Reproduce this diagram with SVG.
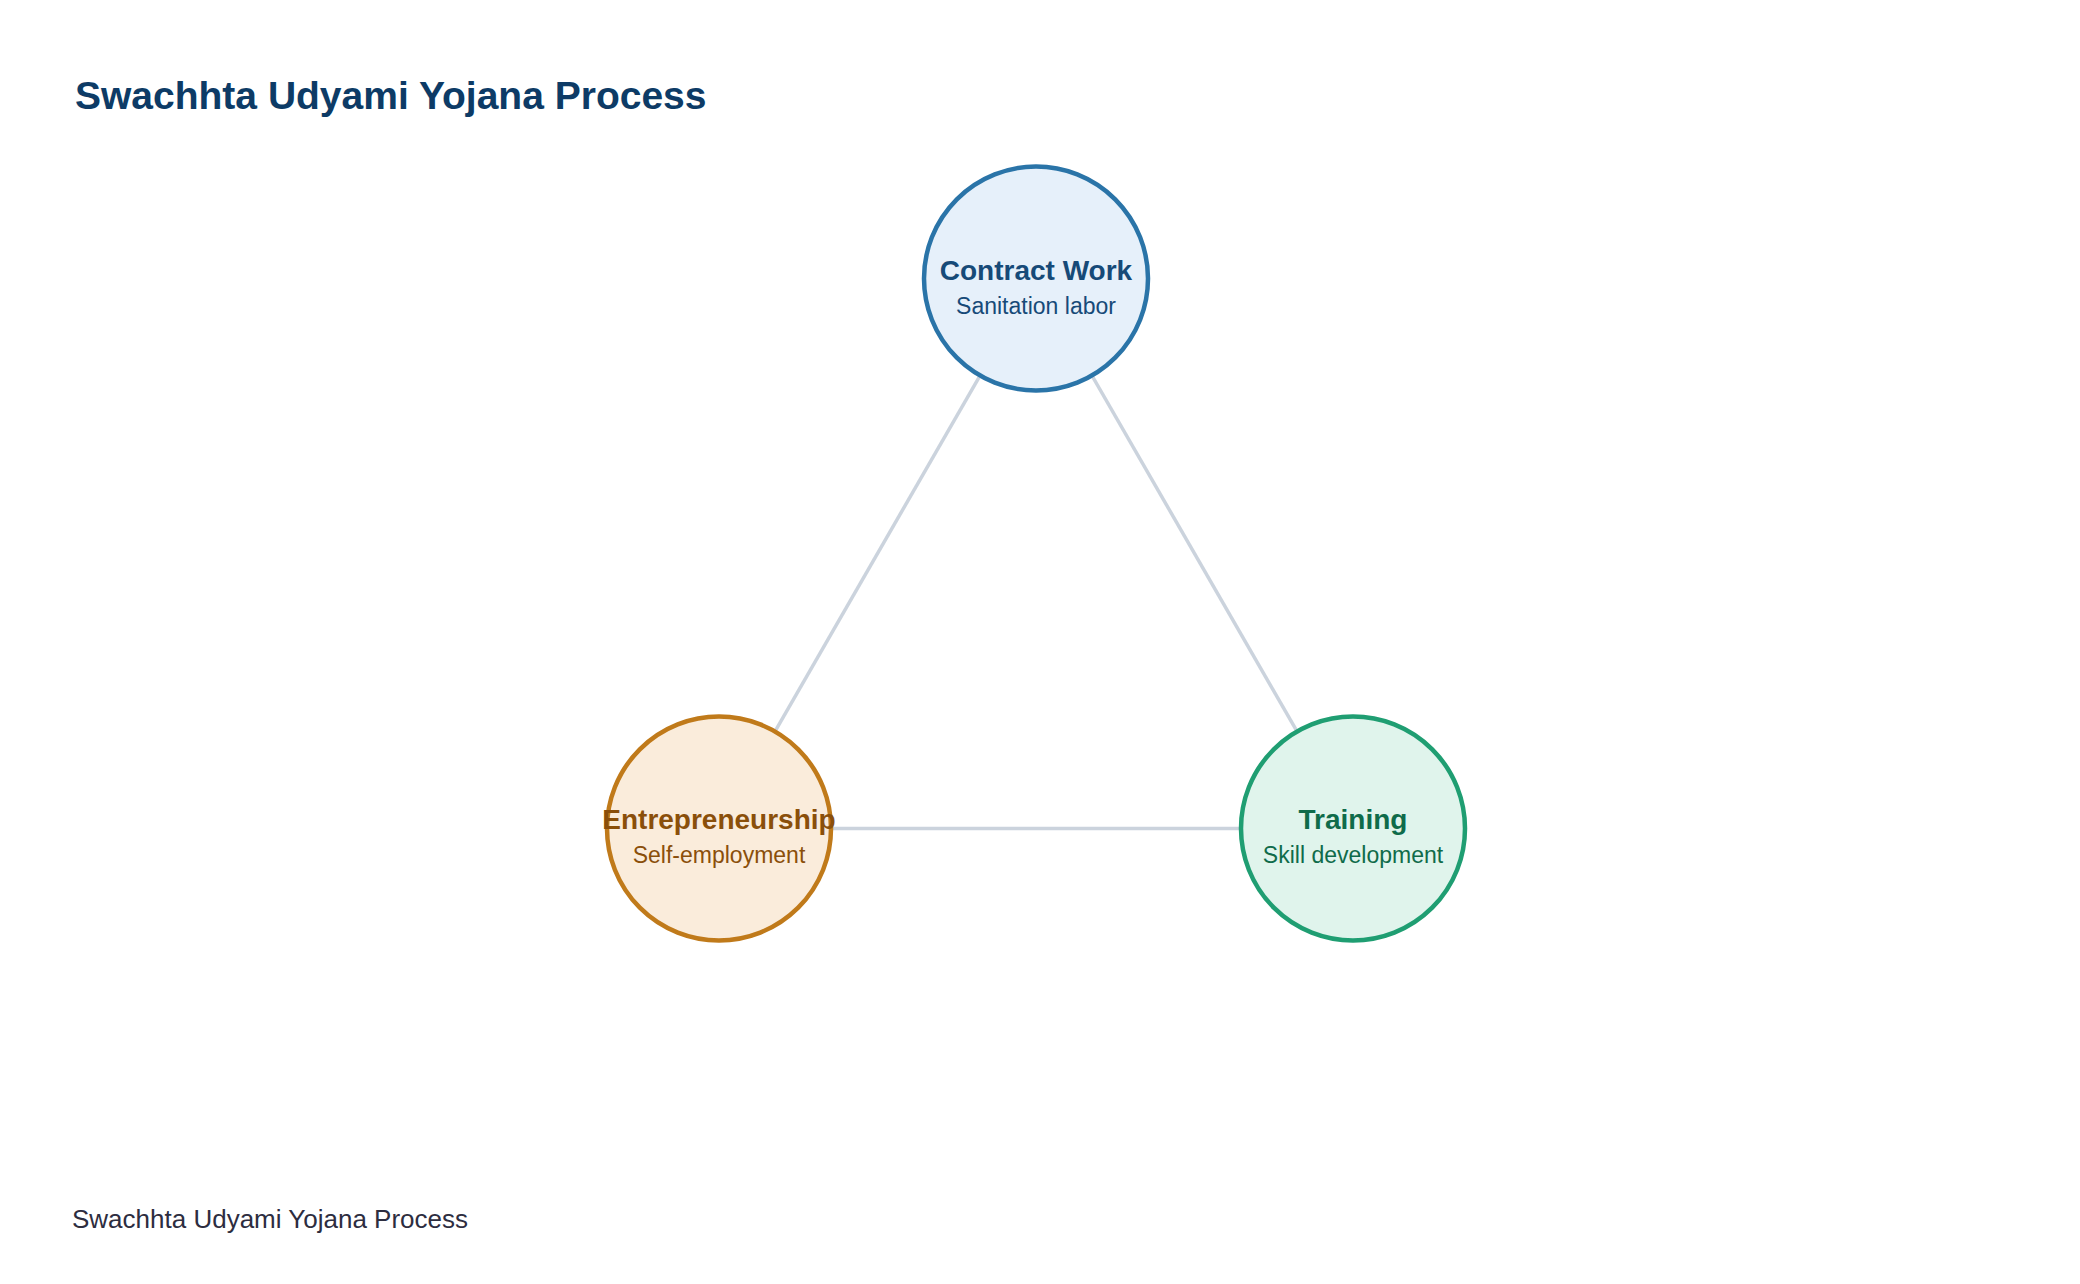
<svg xmlns="http://www.w3.org/2000/svg" width="2080" height="1284" viewBox="0 0 2080 1284">
<style>
.title{font-family:"Liberation Sans",Arial,sans-serif;font-weight:bold;font-size:39px;fill:#0d3b66}
.footer{font-family:"Liberation Sans",Arial,sans-serif;font-size:26px;fill:#2d2d3f}
.nt{font-family:"Liberation Sans",Arial,sans-serif;font-weight:bold;font-size:28px;text-anchor:middle}
.ns{font-family:"Liberation Sans",Arial,sans-serif;font-size:23px;text-anchor:middle}
.edge{stroke:#cbd3dd;stroke-width:3.5;fill:none}
.node circle{stroke-width:4.5}
</style>
<rect width="2080" height="1284" fill="#ffffff"/>
<text class="title" x="75" y="109">Swachhta Udyami Yojana Process</text>
<g id="connectors">
<line class="edge" x1="1036" y1="278.5" x2="719" y2="828.5"/>
<line class="edge" x1="1036" y1="278.5" x2="1353" y2="828.5"/>
<line class="edge" x1="719" y1="828.5" x2="1353" y2="828.5"/>
</g>
<g id="node-contract-work" class="node">
<circle cx="1036" cy="278.5" r="112" fill="#e6f0fa" stroke="#2a74a8"/>
<text class="nt" x="1036" y="279.5" fill="#164a78">Contract Work</text>
<text class="ns" x="1036" y="313.5" fill="#164a78">Sanitation labor</text>
</g>
<g id="node-entrepreneurship" class="node">
<circle cx="719" cy="828.5" r="112" fill="#faecdb" stroke="#c07a1a"/>
<text class="nt" x="719" y="828.5" fill="#8a4f0a">Entrepreneurship</text>
<text class="ns" x="719" y="862.5" fill="#8a4f0a">Self-employment</text>
</g>
<g id="node-training" class="node">
<circle cx="1353" cy="828.5" r="112" fill="#e0f4ec" stroke="#1f9e72"/>
<text class="nt" x="1353" y="828.5" fill="#0f6b4a">Training</text>
<text class="ns" x="1353" y="862.5" fill="#0f6b4a">Skill development</text>
</g>
<text class="footer" x="72" y="1228">Swachhta Udyami Yojana Process</text>
</svg>
